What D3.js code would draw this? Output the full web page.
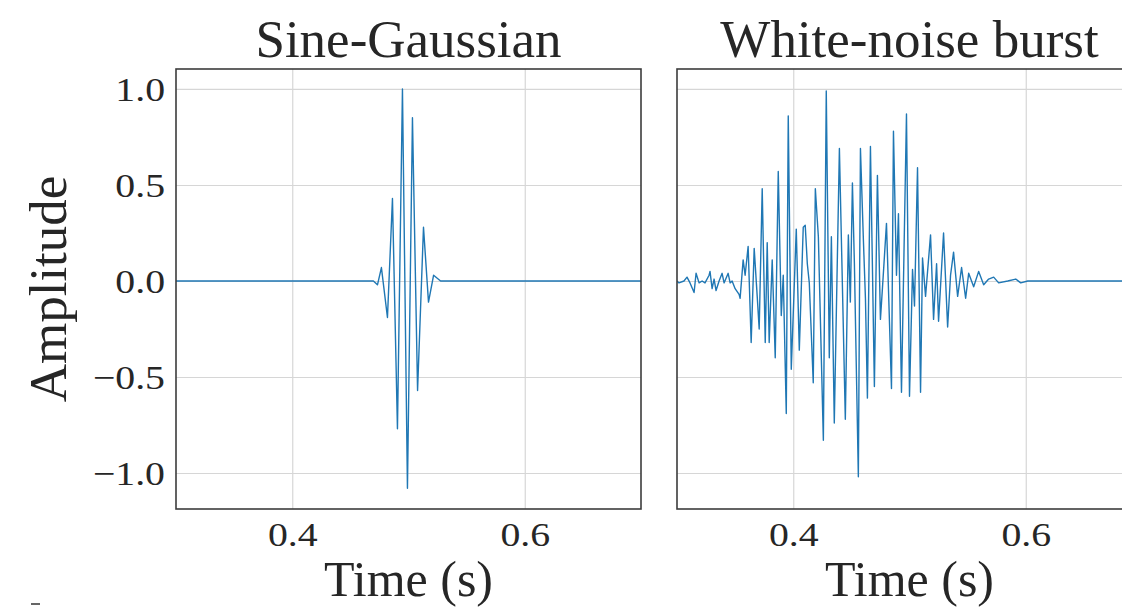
<!DOCTYPE html>
<html>
<head>
<meta charset="utf-8">
<script src="https://cdn.jsdelivr.net/npm/d3@7"></script>
<style>
  body { margin: 0; background: #fff; }
  svg { display: block; }
  text { font-family: "Liberation Serif", "Times New Roman", serif; fill: #262626; }
</style>
</head>
<body>
<svg id="chart" width="1122" height="609"></svg>
<script>
const panelTitles = ['Sine-Gaussian', 'White-noise burst']
const xLabel = 'Time (s)'
const yLabel = 'Amplitude'
const xTicks = [0.4, 0.6]
const yTicks = [-1.0, -0.5, 0.0, 0.5, 1.0]
const xDomain = [0.3, 0.7]
const yDomain = [-1.1875, 1.104]

// sine-gaussian (extrema)
const sgTime = [0.3000, 0.4698, 0.4733, 0.4767, 0.4819, 0.4862, 0.4905, 0.4948, 0.4991, 0.5034,
                0.5078, 0.5129, 0.5172, 0.5216, 0.5276, 0.7000]
const sgAmp  = [0, 0, -0.02, 0.07, -0.19, 0.43, -0.77, 1.00, -1.08, 0.85,
                -0.57, 0.28, -0.11, 0.03, 0, 0]

// white-noise burst
const wnTime = [0.3000, 0.3017, 0.3060, 0.3086, 0.3112, 0.3147, 0.3164, 0.3190, 0.3216, 0.3241,
                0.3276, 0.3284, 0.3302, 0.3319, 0.3336, 0.3362, 0.3388, 0.3405, 0.3440, 0.3457,
                0.3474, 0.3500, 0.3534, 0.3543, 0.3569, 0.3586, 0.3612, 0.3638, 0.3664, 0.3690,
                0.3707, 0.3733, 0.3759, 0.3776, 0.3793, 0.3819, 0.3845, 0.3871, 0.3897, 0.3914,
                0.3940, 0.3957, 0.3983, 0.4026, 0.4052, 0.4086, 0.4103, 0.4121, 0.4138, 0.4172,
                0.4190, 0.4216, 0.4259, 0.4284, 0.4310, 0.4328, 0.4353, 0.4397, 0.4448, 0.4474,
                0.4491, 0.4509, 0.4526, 0.4560, 0.4578, 0.4603, 0.4621, 0.4638, 0.4664, 0.4698,
                0.4724, 0.4750, 0.4767, 0.4802, 0.4819, 0.4845, 0.4862, 0.4888, 0.4905, 0.4931,
                0.4974, 0.5000, 0.5026, 0.5043, 0.5069, 0.5095, 0.5112, 0.5138, 0.5181, 0.5207,
                0.5233, 0.5250, 0.5293, 0.5328, 0.5353, 0.5379, 0.5414, 0.5448, 0.5483, 0.5509,
                0.5552, 0.5595, 0.5638, 0.5681, 0.5724, 0.5767, 0.5845, 0.5914, 0.5957, 0.6017,
                0.7000]
const wnAmp  = [0, -0.01, 0.00, 0.02, -0.01, -0.06, 0.04, -0.01, 0.00, -0.01,
                0.03, 0.05, -0.04, 0.01, -0.05, 0.00, 0.04, -0.01, 0.04, -0.01,
                0.00, -0.04, -0.07, -0.09, 0.11, 0.03, 0.18, -0.32, 0.17, -0.08,
                -0.25, 0.48, -0.32, 0.20, -0.32, 0.11, -0.40, 0.57, -0.18, 0.03,
                -0.69, 0.86, -0.46, 0.27, -0.36, 0.28, 0.29, 0.09, -0.01, -0.53,
                0.48, 0.23, -0.83, 0.99, -0.40, 0.23, -0.74, 0.69, -0.72, 0.24,
                -0.11, 0.51, 0.09, -1.02, 0.69, 0.22, -0.09, -0.61, 0.70, -0.55,
                0.55, -0.20, -0.04, 0.30, -0.04, -0.56, 0.78, 0.03, 0.35, -0.58,
                0.87, -0.60, 0.06, -0.13, 0.59, -0.58, 0.12, -0.08, 0.24, -0.20,
                0.09, -0.21, 0.25, -0.24, 0.03, 0.15, -0.08, 0.07, -0.09, 0.04,
                -0.03, 0.05, -0.02, 0.01, 0.02, -0.01, 0.00, 0.01, -0.01, 0.00,
                0]

const series = [
    sgTime.map((t, i) => ({ t, v: sgAmp[i] })),
    wnTime.map((t, i) => ({ t, v: wnAmp[i] }))
]

const panelX = [176, 677]
const panelY = 69
const panelW = 465, panelH = 440
const tickStretch = 1.17

const svg = d3.select('#chart')

const x = d3.scaleLinear().domain(xDomain).range([0, panelW])
const y = d3.scaleLinear().domain(yDomain).range([panelH, 0])

const line = d3.line()
    .x(d => x(d.t))
    .y(d => y(d.v))

panelX.forEach((px, i) => {
    const g = svg.append('g').attr('transform', `translate(${px},${panelY})`)

    g.append('clipPath').attr('id', 'clip' + i)
        .append('rect').attr('width', panelW).attr('height', panelH)

    // grid
    const gy = g.append('g')
        .call(d3.axisLeft(y).tickValues(yTicks).tickSize(-panelW).tickFormat(''))
    const gx = g.append('g')
        .attr('transform', `translate(0,${panelH})`)
        .call(d3.axisBottom(x).tickValues(xTicks).tickSize(-panelH).tickFormat(''))
    ;[gx, gy].forEach(a => {
        a.select('.domain').remove()
        a.selectAll('line').attr('stroke', '#d6d6d6').attr('stroke-width', 1.2)
    })

    g.append('path')
        .datum(series[i])
        .attr('clip-path', `url(#clip${i})`)
        .attr('fill', 'none')
        .attr('stroke', '#1f77b4')
        .attr('stroke-width', 1.4)
        .attr('stroke-linejoin', 'round')
        .attr('d', line)

    g.append('rect')
        .attr('width', panelW).attr('height', panelH)
        .attr('fill', 'none')
        .attr('stroke', '#3c3c3c')
        .attr('stroke-width', 1.6)

    // x tick labels
    const xa = g.append('g')
        .attr('transform', `translate(0,${panelH})`)
        .call(d3.axisBottom(x).tickValues(xTicks).tickSize(0).tickFormat(d3.format('.1f')))
    xa.select('.domain').remove()
    xa.selectAll('text')
        .attr('y', 37).attr('dy', null)
        .attr('transform', `scale(${tickStretch},1)`)
        .style('font-size', '34px')
        .style('font-family', '"Liberation Serif", serif')
        .attr('fill', '#262626')

    if (i === 0) {
        const ya = g.append('g')
            .call(d3.axisLeft(y).tickValues(yTicks).tickSize(0).tickFormat(d3.format('.1f')))
        ya.select('.domain').remove()
        ya.selectAll('text')
            .attr('x', -11 / tickStretch).attr('dy', '0.34em')
            .attr('transform', `scale(${tickStretch},1)`)
            .style('font-size', '34px')
            .style('font-family', '"Liberation Serif", serif')
            .attr('fill', '#262626')

        g.append('text')
            .attr('transform', `translate(-110,${panelH / 2}) rotate(-90)`)
            .attr('text-anchor', 'middle')
            .style('font-size', '53px')
            .text(yLabel)
    }

    g.append('text')
        .attr('x', panelW / 2).attr('y', -12)
        .attr('text-anchor', 'middle')
        .style('font-size', '53px')
        .text(panelTitles[i])

    g.append('text')
        .attr('x', panelW / 2).attr('y', panelH + 87)
        .attr('text-anchor', 'middle')
        .style('font-size', '50px')
        .text(xLabel)
})

// stray mark at the bottom-left edge of the figure
svg.append('line')
    .attr('x1', 31).attr('x2', 40).attr('y1', 604).attr('y2', 604)
    .attr('stroke', '#333').attr('stroke-width', 1.5)
</script>
</body>
</html>
